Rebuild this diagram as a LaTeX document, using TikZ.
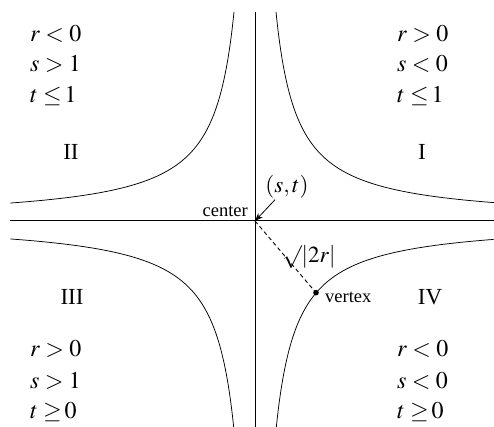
\documentclass[tikz,border=0pt]{standalone}
\usepackage{mathptmx}
\usepackage{fontspec}
\setmainfont{Liberation Serif}
\usetikzlibrary{arrows.meta,calc}
\newcommand{\myle}{\mkern4mu{\leq}\mkern2mu}
\newcommand{\myge}{\mkern4mu{\geq}\mkern2mu}
\begin{document}
\begin{tikzpicture}[x=1pt,y=1pt,
  axis/.style={line width=1pt},
  branch/.style={line width=0.75pt,samples=120},
  cond/.style={anchor=base west,inner sep=0pt,font=\fontsize{24}{28}\selectfont},
  quad/.style={inner sep=0pt,font=\fontsize{23}{27}\selectfont},
  small/.style={inner sep=0pt,font=\fontsize{18.5}{22}\selectfont},
  big/.style={inner sep=1pt,font=\fontsize{23}{27}\selectfont}]
\useasboundingbox (-255,-206) rectangle (239,221);
\coordinate (O) at (0,0);
\coordinate (V) at (61,-71.7);
\coordinate (T) at (0,209);
\coordinate (B) at (0,-206);
\coordinate (L) at (-245,0);
\coordinate (R) at (239,0);
\draw[axis] (T) -- (B);
\draw[axis] (L) -- (R);
% hyperbola branches, dx*dy = 4392
\draw[branch,domain={ln(21.01)}:{ln(239)}] plot ({exp(\x)},{4392/exp(\x)});
\draw[branch,domain={ln(21.01)}:{ln(245)}] plot ({-exp(\x)},{4392/exp(\x)});
\draw[branch,domain={ln(21.32)}:{ln(245)}] plot ({-exp(\x)},{-4392/exp(\x)});
\draw[branch,domain={ln(21.32)}:{ln(239)}] plot ({exp(\x)},{-4392/exp(\x)});
% center, radius, vertex
\draw[line width=0.9pt,dashed,dash pattern=on 4pt off 3pt] (O) -- (V);
\fill (V) circle (2.8pt);
\node[small,anchor=base east] (cen) at (-7,4.3) {center};
\node[big] (st) at (32,34) {$(s,t)$};
\draw[line width=0.8pt,-{Stealth[length=8pt,width=6pt]}] (st) -- (O);
\node[big] (rad) at (54,-36) {$\surd|2r|$};
\node[small,anchor=base west] (vtx) at ($(V)+(9,-10)$) {vertex};
% quadrant numerals
\node[quad] (q1) at (167,69) {I};
\node[quad] (q2) at (-184,69) {II};
\node[quad] (q3) at (-183,-76) {III};
\node[quad] (q4) at (175,-76) {IV};
% conditions
\node[cond] (a1) at (-225,179) {$r<0$};
\node[cond] (a2) at (-225,149) {$s>1$};
\node[cond] (a3) at (-225,118) {$t\myle 1$};
\node[cond] (b1) at (142,179) {$r>0$};
\node[cond] (b2) at (142,149) {$s<0$};
\node[cond] (b3) at (142,118) {$t\myle 1$};
\node[cond] (c1) at (-225,-136) {$r>0$};
\node[cond] (c2) at (-225,-167) {$s>1$};
\node[cond] (c3) at (-225,-197) {$t\myge 0$};
\node[cond] (d1) at (142,-136) {$r<0$};
\node[cond] (d2) at (142,-167) {$s<0$};
\node[cond] (d3) at (142,-197) {$t\myge 0$};
\end{tikzpicture}
\end{document}
